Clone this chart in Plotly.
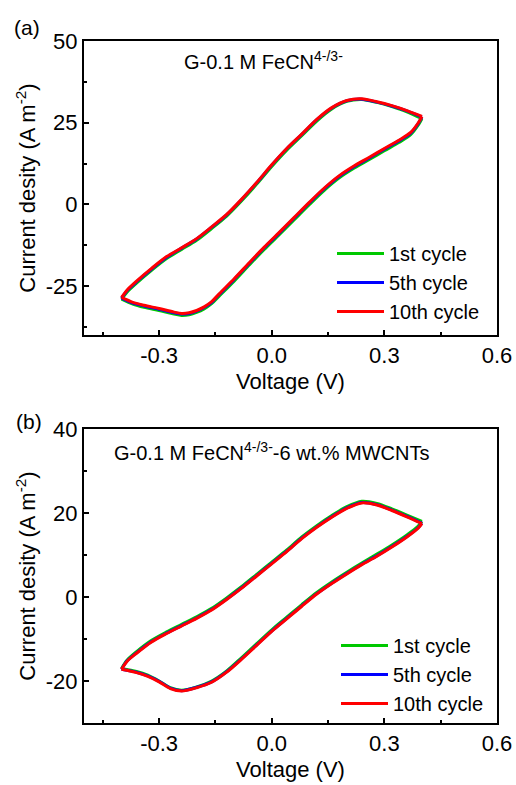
import plotly.graph_objects as go

# ---------------- data: panel (a) ----------------
va_fwd = [-0.40, -0.385, -0.36, -0.32, -0.28, -0.24, -0.20, -0.16, -0.12, -0.08, -0.04,
          0.00, 0.04, 0.08, 0.12, 0.16, 0.20, 0.24, 0.28, 0.32, 0.36, 0.40]
ia_fwd_c10 = [-28.5, -26.2, -23.5, -19.6, -16.0, -13.3, -10.5, -6.9, -3.1, 1.6, 6.7,
              12.1, 17.1, 21.5, 26.0, 29.6, 31.8, 32.3, 31.4, 30.2, 28.7, 26.9]
ia_fwd_c5 = [-28.7, -26.4, -23.7, -19.8, -16.2, -13.4, -10.6, -7.0, -3.2, 1.5, 6.6,
             12.0, 17.0, 21.4, 25.9, 29.5, 31.7, 32.2, 31.3, 30.1, 28.6, 26.7]
ia_fwd_c1 = [-29.0, -26.8, -24.1, -20.2, -16.6, -13.8, -11.0, -7.4, -3.6, 1.1, 6.2,
             11.6, 16.6, 21.0, 25.5, 29.2, 31.5, 32.1, 31.2, 29.9, 28.3, 26.2]

va_rev = [0.40, 0.39, 0.37, 0.34, 0.30, 0.26, 0.22, 0.18, 0.14, 0.10, 0.06, 0.02,
          -0.02, -0.06, -0.10, -0.14, -0.16, -0.18, -0.20, -0.22, -0.24, -0.26, -0.30,
          -0.34, -0.37, -0.40]
ia_rev_c10 = [26.9, 24.9, 22.0, 19.7, 17.1, 14.4, 11.8, 8.8, 5.0, 0.6, -4.0, -8.6,
              -13.1, -17.9, -22.8, -27.4, -29.8, -31.4, -32.5, -33.2, -33.4, -33.0, -31.9,
              -30.9, -30.0, -28.5]
ia_rev_c5 = [26.7, 24.7, 21.8, 19.5, 16.9, 14.2, 11.6, 8.6, 4.8, 0.4, -4.2, -8.8,
             -13.3, -18.1, -23.0, -27.6, -30.0, -31.6, -32.7, -33.4, -33.6, -33.2, -32.1,
             -31.1, -30.2, -28.7]
ia_rev_c1 = [26.2, 24.2, 21.3, 19.0, 16.4, 13.7, 11.1, 8.1, 4.3, -0.1, -4.7, -9.3,
             -13.8, -18.6, -23.5, -28.1, -30.4, -32.0, -33.1, -33.8, -34.0, -33.6, -32.5,
             -31.5, -30.5, -29.0]

# ---------------- data: panel (b) ----------------
vb_fwd = [-0.40, -0.385, -0.36, -0.32, -0.28, -0.24, -0.20, -0.16, -0.12, -0.08, -0.04,
          0.00, 0.04, 0.08, 0.12, 0.16, 0.20, 0.24, 0.28, 0.32, 0.36, 0.40]
ib_fwd_c10 = [-17.2, -15.3, -13.4, -10.7, -8.7, -6.9, -5.1, -3.1, -0.6, 2.1, 5.0,
              7.9, 10.8, 13.9, 16.6, 19.0, 21.1, 22.4, 21.9, 20.6, 19.1, 17.5]
ib_fwd_c5 = [-17.2, -15.2, -13.3, -10.6, -8.6, -6.8, -5.0, -3.0, -0.5, 2.2, 5.1,
             8.0, 10.9, 14.0, 16.7, 19.1, 21.2, 22.5, 22.0, 20.7, 19.2, 17.6]
ib_fwd_c1 = [-17.0, -15.0, -13.0, -10.3, -8.3, -6.5, -4.7, -2.7, -0.2, 2.5, 5.4,
             8.3, 11.2, 14.3, 17.0, 19.4, 21.5, 22.8, 22.3, 21.0, 19.5, 18.0]

vb_rev = [0.40, 0.39, 0.36, 0.32, 0.28, 0.24, 0.20, 0.16, 0.12, 0.08, 0.04, 0.00,
          -0.04, -0.08, -0.12, -0.16, -0.20, -0.24, -0.27, -0.30, -0.33, -0.36, -0.40]
ib_rev_c10 = [17.5, 16.4, 14.3, 11.9, 9.7, 7.7, 5.5, 3.2, 0.7, -2.2, -5.2, -8.2,
              -11.5, -14.8, -17.9, -20.3, -21.6, -22.4, -21.8, -20.2, -18.9, -18.0, -17.2]
ib_rev_c5 = [17.6, 16.5, 14.4, 12.0, 9.8, 7.8, 5.6, 3.3, 0.8, -2.1, -5.1, -8.1,
             -11.4, -14.7, -17.8, -20.2, -21.5, -22.3, -21.7, -20.1, -18.8, -17.9, -17.2]
ib_rev_c1 = [18.0, 16.9, 14.8, 12.4, 10.2, 8.1, 5.9, 3.6, 1.1, -1.8, -4.8, -7.8,
             -11.1, -14.4, -17.6, -20.0, -21.4, -22.2, -21.6, -20.0, -18.6, -17.7, -17.0]

cycle_names = ["1st cycle", "5th cycle", "10th cycle"]
cycle_colors = ["#00C800", "#0000FF", "#FF0000"]

x_ticks = [-0.3, 0.0, 0.3, 0.6]
x_ticklabels = ["-0.3", "0.0", "0.3", "0.6"]
ya_ticks = [-25, 0, 25, 50]
ya_ticklabels = ["-25", "0", "25", "50"]
yb_ticks = [-20, 0, 20, 40]
yb_ticklabels = ["-20", "0", "20", "40"]

FONT = "Liberation Sans, Arial, sans-serif"

fig = go.Figure()

panels = [
    ("x", "y", "legend", va_fwd, [ia_fwd_c1, ia_fwd_c5, ia_fwd_c10],
     va_rev, [ia_rev_c1, ia_rev_c5, ia_rev_c10]),
    ("x2", "y2", "legend2", vb_fwd, [ib_fwd_c1, ib_fwd_c5, ib_fwd_c10],
     vb_rev, [ib_rev_c1, ib_rev_c5, ib_rev_c10]),
]
for xa, ya, leg, vf, ifs, vr, irs in panels:
    for k in range(3):
        grp = leg + cycle_names[k]
        fig.add_trace(go.Scatter(
            x=vf, y=ifs[k], mode="lines", name=cycle_names[k],
            line=dict(color=cycle_colors[k], width=3, shape="spline", smoothing=0.8),
            xaxis=xa, yaxis=ya, legend=leg, legendgroup=grp, showlegend=True))
        fig.add_trace(go.Scatter(
            x=vr, y=irs[k], mode="lines", name=cycle_names[k],
            line=dict(color=cycle_colors[k], width=3, shape="spline", smoothing=0.8),
            xaxis=xa, yaxis=ya, legend=leg, legendgroup=grp, showlegend=False))

W, H = 516, 785
xdom = [84 / W, 497 / W]
ya_dom = [1 - 335 / H, 1 - 41 / H]
yb_dom = [1 - 723 / H, 1 - 429 / H]

axis_common = dict(showline=True, linecolor="black", linewidth=2, mirror=True,
                   ticks="inside", ticklen=5, tickwidth=2, tickcolor="black",
                   showgrid=False, zeroline=False, automargin=False,
                   tickfont=dict(family=FONT, size=22, color="black"),
                   title_font=dict(family=FONT, size=22, color="black"))

fig.update_layout(
    width=W, height=H, margin=dict(l=0, r=0, t=0, b=0, autoexpand=False),
    paper_bgcolor="white", plot_bgcolor="white",
    font=dict(family=FONT, size=20, color="black"),
    xaxis=dict(domain=xdom, anchor="y", range=[-0.5, 0.6], tickvals=x_ticks,
               ticktext=x_ticklabels, title=dict(text="Voltage (V)", standoff=6),
               minor=dict(dtick=0.15, tick0=0, ticks="inside", ticklen=3, tickwidth=2,
                          tickcolor="black"),
               **axis_common),
    yaxis=dict(domain=ya_dom, anchor="x", range=[-40, 50], tickvals=ya_ticks,
               ticktext=ya_ticklabels,
               title=dict(text="Current desity (A m<sup>-2</sup>)", standoff=4),
               minor=dict(dtick=12.5, tick0=0, ticks="inside", ticklen=3, tickwidth=2,
                          tickcolor="black"),
               **axis_common),
    xaxis2=dict(domain=xdom, anchor="y2", range=[-0.5, 0.6], tickvals=x_ticks,
                ticktext=x_ticklabels, title=dict(text="Voltage (V)", standoff=6),
                minor=dict(dtick=0.15, tick0=0, ticks="inside", ticklen=3, tickwidth=2,
                           tickcolor="black"),
                **axis_common),
    yaxis2=dict(domain=yb_dom, anchor="x2", range=[-30, 40], tickvals=yb_ticks,
                ticktext=yb_ticklabels,
                title=dict(text="Current desity (A m<sup>-2</sup>)", standoff=4),
                minor=dict(dtick=10, tick0=0, ticks="inside", ticklen=3, tickwidth=2,
                           tickcolor="black"),
                **axis_common),
    legend=dict(x=332 / W, y=1 - 234 / H, xanchor="left", yanchor="top",
                bgcolor="rgba(0,0,0,0)", font=dict(family=FONT, size=20),
                itemwidth=47, tracegroupgap=0),
    legend2=dict(x=336 / W, y=1 - 626 / H, xanchor="left", yanchor="top",
                 bgcolor="rgba(0,0,0,0)", font=dict(family=FONT, size=20),
                 itemwidth=47, tracegroupgap=0),
    showlegend=True,
)

fig.add_annotation(x=182 / W, y=1 - 61 / H, xref="paper", yref="paper",
                   xanchor="left", yanchor="middle", showarrow=False,
                   text="G-0.1 M FeCN<sup>4-/3-</sup>", font=dict(family=FONT, size=20))
fig.add_annotation(x=112 / W, y=1 - 451 / H, xref="paper", yref="paper",
                   xanchor="left", yanchor="middle", showarrow=False,
                   text="G-0.1 M FeCN<sup>4-/3-</sup>-6 wt.% MWCNTs",
                   font=dict(family=FONT, size=20))
fig.add_annotation(x=12 / W, y=1 - 28 / H, xref="paper", yref="paper",
                   xanchor="left", yanchor="middle", showarrow=False,
                   text="(a)", font=dict(family=FONT, size=21))
fig.add_annotation(x=14 / W, y=1 - 421 / H, xref="paper", yref="paper",
                   xanchor="left", yanchor="middle", showarrow=False,
                   text="(b)", font=dict(family=FONT, size=21))

fig.write_html("out.html")
